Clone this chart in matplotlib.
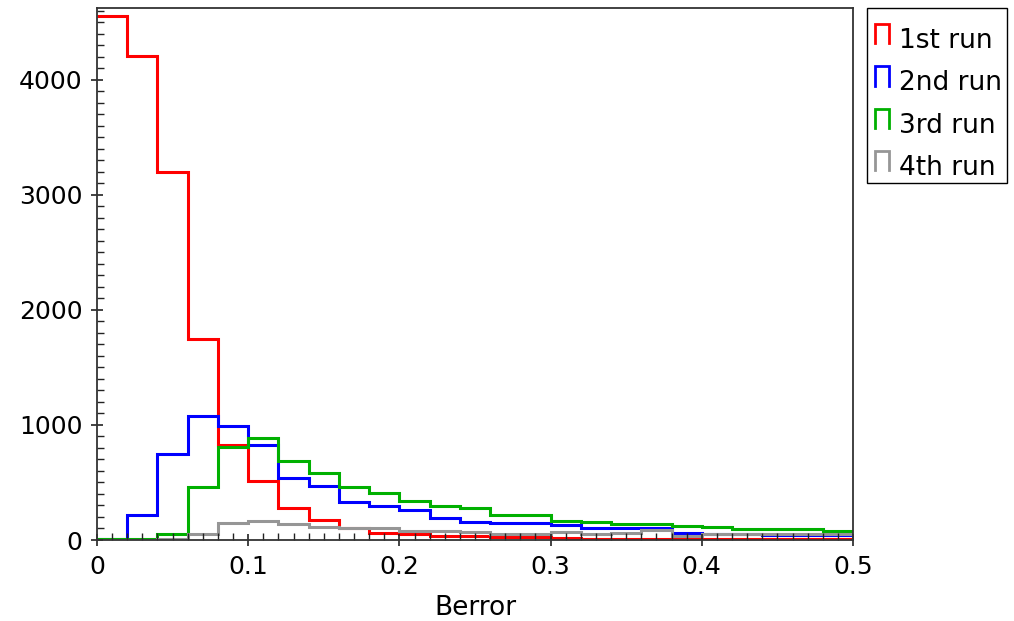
import numpy as np
import matplotlib
matplotlib.use("Agg")
import matplotlib.pyplot as plt
from matplotlib.lines import Line2D
from matplotlib.patches import Rectangle
from matplotlib.legend_handler import HandlerBase
from matplotlib.ticker import MultipleLocator

# bin edges: 25 bins of width 0.02 over [0, 0.5]
BIN_EDGES = np.linspace(0.0, 0.5, 26)

RUN_LABELS = ["1st run", "2nd run", "3rd run", "4th run"]
RUN_COLORS = ["#ff0000", "#0000ff", "#00b000", "#969696"]

RUN1 = [4557, 4211, 3203, 1745, 829, 510, 278, 171, 107, 64, 49, 38, 38,
        26, 26, 20, 10, 10, 10, 10, 10, 10, 10, 10, 10]
RUN2 = [10, 214, 745, 1076, 991, 829, 539, 472, 333, 298, 261, 188, 159,
        145, 145, 133, 107, 107, 107, 64, 49, 49, 45, 45, 45]
RUN3 = [5, 8, 52, 458, 811, 884, 687, 583, 458, 411, 339, 298, 281,
        215, 215, 168, 156, 136, 136, 122, 110, 93, 93, 93, 81]
RUN4 = [0, 0, 9, 52, 145, 168, 136, 116, 101, 101, 78, 78, 67,
        55, 55, 67, 55, 58, 87, 38, 55, 55, 52, 52, 50]

RUNS = [RUN1, RUN2, RUN3, RUN4]

W, H = 1014, 621


class StepHandler(HandlerBase):
    """Small open-bar glyph for step histogram entries."""

    def create_artists(self, legend, orig_handle, xdescent, ydescent,
                       width, height, fontsize, trans):
        w = 9.5
        x0 = -xdescent + 1
        y_bot = -ydescent + height * 0.25
        y_top = -ydescent + height * 1.3
        xs = [x0, x0, x0 + w, x0 + w]
        ys = [y_bot, y_top, y_top, y_bot]
        line = Line2D(xs, ys, color=orig_handle.get_color(),
                      linewidth=2.0, solid_joinstyle="miter")
        line.set_transform(trans)
        return [line]


plt.rcParams["font.family"] = "DejaVu Sans"

fig = plt.figure(figsize=(W / 100, H / 100), dpi=100)
ax = fig.add_axes([97 / W, 1 - 540 / H, (853 - 97) / W, (540 - 8) / H])

handles = []
for values, color, label in zip(RUNS, RUN_COLORS, RUN_LABELS):
    ax.stairs(values, BIN_EDGES, baseline=None, fill=False, color=color,
              linewidth=2.2, label=label)
    handles.append(Line2D([], [], color=color, label=label))

ax.set_xlim(0, 0.5)
ax.set_ylim(0, 4626)

ax.xaxis.set_major_locator(MultipleLocator(0.1))
ax.xaxis.set_minor_locator(MultipleLocator(0.01))
ax.yaxis.set_major_locator(MultipleLocator(1000))
ax.yaxis.set_minor_locator(MultipleLocator(100))
ax.xaxis.set_major_formatter(plt.FuncFormatter(lambda v, p: "0" if v == 0 else f"{v:g}"))

ax.tick_params(which="major", direction="inout", length=9, width=1.2, pad=6,
               labelsize=18, colors="#222222", labelcolor="black")
ax.tick_params(which="minor", direction="in", length=5, width=1.0, colors="#222222")
ax.tick_params(top=False, right=False, which="both")

for spine in ax.spines.values():
    spine.set_linewidth(1.3)
    spine.set_color("#333333")
    spine.set_zorder(3)

ax.set_xlabel("Berror", fontsize=19, labelpad=12)

# legend without its own frame; the box is drawn separately
leg = fig.legend(handles=handles, handler_map={Line2D: StepHandler()},
                 loc="upper left", bbox_to_anchor=(874 / W, 1 - 28 / H),
                 fontsize=19, frameon=False, borderaxespad=0, borderpad=0,
                 handlelength=0.5, handletextpad=0.45, labelspacing=0.62)
fig.patches.append(Rectangle((867 / W, 1 - 183 / H), 140 / W, 175 / H,
                             transform=fig.transFigure, fill=False,
                             edgecolor="black", linewidth=1.0))

fig.savefig("out.png", dpi=100)
